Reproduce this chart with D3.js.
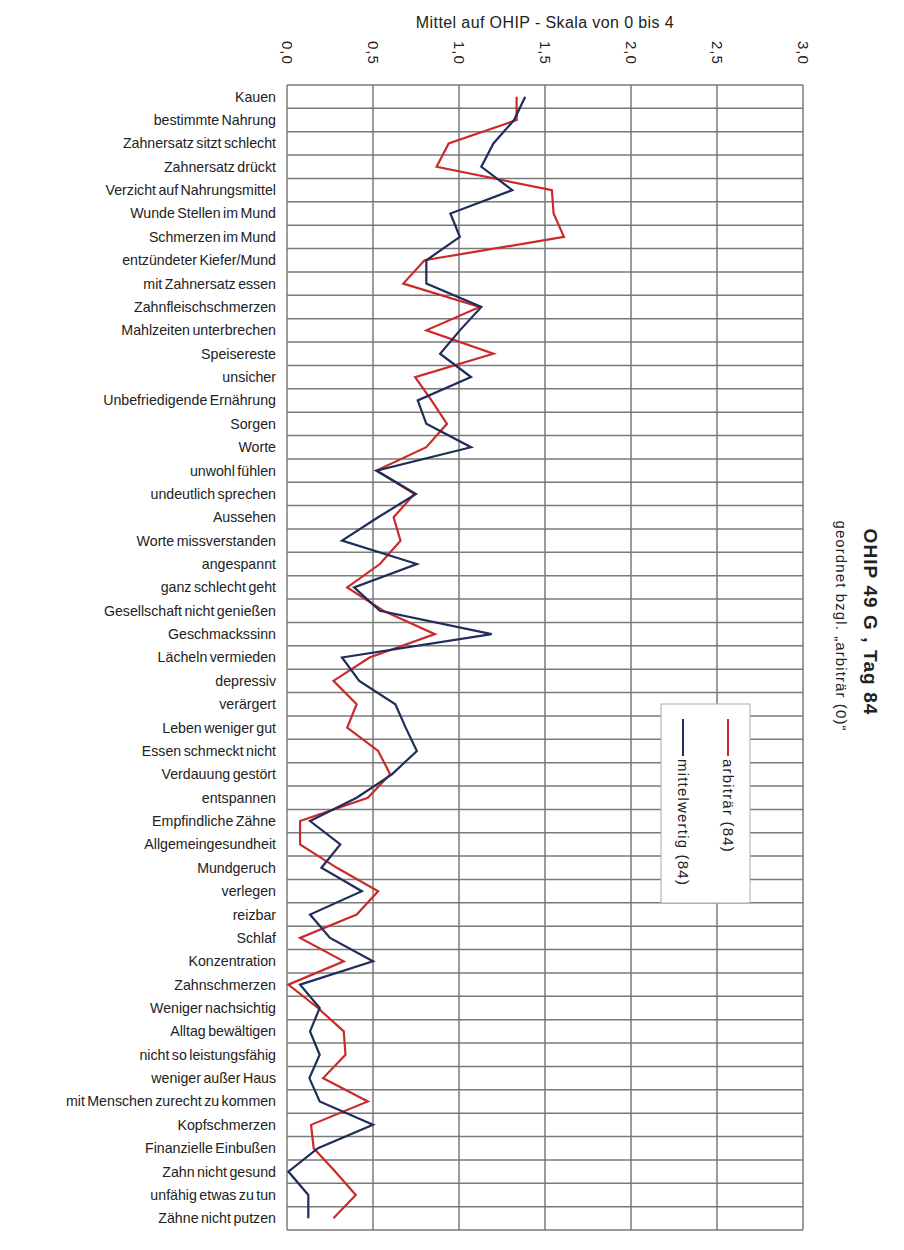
<!DOCTYPE html>
<html><head><meta charset="utf-8">
<script src="https://cdn.jsdelivr.net/npm/d3@7"></script>
<style>body{margin:0;background:#fff}svg{display:block}text{font-family:"Liberation Sans",Arial,sans-serif;fill:#222}</style>
</head><body><svg id="c" width="904" height="1250"></svg>
<script>
const categories = ["Kauen","bestimmte Nahrung","Zahnersatz sitzt schlecht","Zahnersatz drückt","Verzicht auf Nahrungsmittel","Wunde Stellen im Mund","Schmerzen im Mund","entzündeter Kiefer/Mund","mit Zahnersatz essen","Zahnfleischschmerzen","Mahlzeiten unterbrechen","Speisereste","unsicher","Unbefriedigende Ernährung","Sorgen","Worte","unwohl fühlen","undeutlich sprechen","Aussehen","Worte missverstanden","angespannt","ganz schlecht geht","Gesellschaft nicht genießen","Geschmackssinn","Lächeln vermieden","depressiv","verärgert","Leben weniger gut","Essen schmeckt nicht","Verdauung gestört","entspannen","Empfindliche Zähne","Allgemeingesundheit","Mundgeruch","verlegen","reizbar","Schlaf","Konzentration","Zahnschmerzen","Weniger nachsichtig","Alltag bewältigen","nicht so leistungsfähig","weniger außer Haus","mit Menschen zurecht zu kommen","Kopfschmerzen","Finanzielle Einbußen","Zahn nicht gesund","unfähig etwas zu tun","Zähne nicht putzen"];
const arbitraer = [1.335,1.335,0.94,0.87,1.54,1.55,1.61,0.80,0.676,1.12,0.81,1.20,0.745,0.84,0.93,0.81,0.52,0.74,0.62,0.66,0.54,0.35,0.56,0.86,0.48,0.27,0.405,0.35,0.53,0.60,0.47,0.076,0.076,0.29,0.53,0.405,0.076,0.33,0.008,0.18,0.33,0.34,0.21,0.47,0.14,0.155,0.28,0.40,0.27];
const mittelwertig = [1.385,1.32,1.20,1.13,1.31,0.95,1.005,0.81,0.81,1.13,1.005,0.89,1.07,0.76,0.81,1.07,0.52,0.75,0.53,0.32,0.755,0.39,0.54,1.19,0.32,0.42,0.63,0.69,0.755,0.61,0.405,0.134,0.31,0.20,0.435,0.134,0.25,0.50,0.076,0.19,0.134,0.19,0.13,0.19,0.50,0.18,0.008,0.124,0.124];
const tickValues = [0,0.5,1,1.5,2,2.5,3];
const seriesNames = ["arbiträr (84)","mittelwertig (84)"];
const axisTitle = "Mittel auf OHIP - Skala von 0 bis 4";
const title = "OHIP 49 G , Tag 84";
const subtitle = "geordnet bzgl. „arbiträr (0)“";

const svg = d3.select("#c");
const x = d3.scaleLinear().domain([0,3]).range([287,803]);
const y = d3.scaleBand().domain(categories).range([85,1230]);
const grid = "#7a7a7a";

// horizontal grid lines
const hs = categories.map(c=>y(c)).concat([y.range()[1]]);
svg.append("g").selectAll("line").data(hs).join("line")
  .attr("x1",x(0)).attr("x2",x(3)).attr("y1",d=>d).attr("y2",d=>d)
  .attr("stroke",grid).attr("stroke-width",1.5);
// vertical grid lines
svg.append("g").selectAll("line").data(tickValues).join("line")
  .attr("x1",d=>x(d)).attr("x2",d=>x(d)).attr("y1",85).attr("y2",1230)
  .attr("stroke",grid).attr("stroke-width",1.5);

// top axis labels (rotated)
const fmt = d => d3.format(".1f")(d).replace(".",",");
const ax = svg.append("g").attr("transform","translate(0,41)")
  .call(d3.axisTop(x).tickValues(tickValues).tickFormat(fmt).tickSize(0));
ax.select(".domain").remove();
ax.selectAll("text").attr("transform","rotate(90)").attr("text-anchor","start")
  .attr("x",0).attr("y",0).attr("dy","0.35em").style("font-size","15px").style("letter-spacing","1px")
  .style("font-family","'Liberation Sans',Arial,sans-serif").attr("fill","#222");

svg.append("text").attr("x",545).attr("y",28).attr("text-anchor","middle")
  .style("font-size","16px").style("letter-spacing","0.4px").text(axisTitle);

// category labels
svg.append("g").selectAll("text").data(categories).join("text")
  .attr("x",276).attr("y",d=>y(d)+y.bandwidth()/2).attr("dy","0.35em")
  .attr("text-anchor","end").style("font-size","14.2px").style("word-spacing","-1.5px").text(d=>d);

// lines
const line = d3.line().x(d=>x(d.v)).y(d=>y(d.c)+y.bandwidth()/2);
const mk = arr => arr.map((v,i)=>({c:categories[i],v}));
const colors = ["#cc2a2a","#1e2d5a"];
[arbitraer,mittelwertig].forEach((arr,k)=>{
  svg.append("path").datum(mk(arr)).attr("d",line).attr("fill","none")
    .attr("stroke",colors[k]).attr("stroke-width",2.2).attr("stroke-linejoin","miter");
});

// legend
const lg = svg.append("g");
lg.append("rect").attr("x",661).attr("y",704).attr("width",89).attr("height",199)
  .attr("fill","#fff").attr("stroke","#aaa").attr("stroke-width",1);
[[728,0],[683,1]].forEach(([lx,k])=>{
  lg.append("line").attr("x1",lx).attr("x2",lx).attr("y1",719).attr("y2",756)
    .attr("stroke",colors[k]).attr("stroke-width",2);
  lg.append("text").attr("transform",`translate(${lx},759) rotate(90)`)
    .attr("dy","0.35em").style("font-size","15px").style("letter-spacing","1.2px").text(seriesNames[k]);
});

// titles
svg.append("text").attr("transform","translate(871,622) rotate(90)")
  .attr("text-anchor","middle").attr("dy","0.35em")
  .style("font-size","19px").style("font-weight","bold").style("letter-spacing","1.1px").text(title);
svg.append("text").attr("transform","translate(841,626) rotate(90)")
  .attr("text-anchor","middle").attr("dy","0.35em")
  .style("font-size","15px").style("letter-spacing","1.1px").text(subtitle);
</script></body></html>
